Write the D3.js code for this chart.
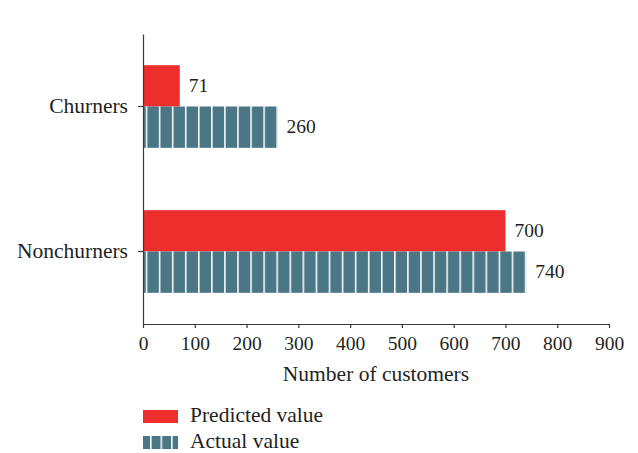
<!DOCTYPE html>
<html>
<head>
<meta charset="utf-8">
<script src="https://cdn.jsdelivr.net/npm/d3@7"></script>
<style>
  html, body { margin: 0; padding: 0; background: #fff; }
  svg text { font-family: "Liberation Serif", "Times New Roman", serif; fill: #231f20; }
</style>
</head>
<body>
<svg id="chart" width="638" height="453"></svg>
<script>
const categories = ["Churners", "Nonchurners"];
const predicted = [71, 700];
const actual = [260, 740];
const xTicks = [0, 100, 200, 300, 400, 500, 600, 700, 800, 900];
const seriesNames = ["Predicted value", "Actual value"];

const RED = "#ee2e2c";
const TEAL = "#4a7686";
const NUM_FONT = 19.5;
const WORD_FONT = 21.5;

const svg = d3.select("#chart");
const margin = { left: 143, right: 29, top: 34, bottom: 129 };
const W = 638, H = 453;
const x = d3.scaleLinear().domain([0, 900]).range([margin.left, W - margin.right]);
const y = d3.scaleBand().domain(categories).range([margin.top, H - margin.bottom]).paddingInner(0.43).paddingOuter(0.215);
const half = y.bandwidth() / 2;

// striped fill for the actual-value bars
const defs = svg.append("defs");
function stripes(id, x0, period) {
  const p = defs.append("pattern").attr("id", id).attr("patternUnits", "userSpaceOnUse")
    .attr("x", x0).attr("y", 0).attr("width", period).attr("height", H);
  p.append("rect").attr("width", period).attr("height", H).attr("fill", TEAL);
  p.append("rect").attr("x", 0).attr("width", 1.6).attr("height", H).attr("fill", "#f4f7f8");
}
stripes("stripe", x(0) + 2.7, 13.07);
stripes("stripeLegend", x(0) + 7, 10.5);

const g = svg.append("g");

// predicted bars (upper half of each band)
g.selectAll(".pred").data(categories).join("rect")
  .attr("x", x(0)).attr("y", d => y(d))
  .attr("width", (d, i) => x(predicted[i]) - x(0)).attr("height", half)
  .attr("fill", RED);

// actual bars (lower half of each band)
g.selectAll(".act").data(categories).join("rect")
  .attr("x", x(0)).attr("y", d => y(d) + half)
  .attr("width", (d, i) => x(actual[i]) - x(0)).attr("height", half)
  .attr("fill", "url(#stripe)");

// value labels
g.selectAll(".plab").data(categories).join("text")
  .attr("x", (d, i) => x(predicted[i]) + 9).attr("y", d => y(d) + half / 2 + 6)
  .attr("font-size", NUM_FONT).text((d, i) => predicted[i]);
g.selectAll(".alab").data(categories).join("text")
  .attr("x", (d, i) => x(actual[i]) + 9).attr("y", d => y(d) + half * 1.5 + 6)
  .attr("font-size", NUM_FONT).text((d, i) => actual[i]);

// x axis
const xAxis = svg.append("g").attr("transform", `translate(0,${H - margin.bottom})`)
  .call(d3.axisBottom(x).tickValues(xTicks).tickSize(4).tickSizeOuter(0).tickPadding(8));
xAxis.selectAll("text").attr("font-size", NUM_FONT).attr("font-family", "Liberation Serif").attr("fill", "#231f20");

// y axis, ticks placed at the boundary between the two bars of each category
const yAxis = svg.append("g").attr("transform", `translate(${x(0)},0)`)
  .call(d3.axisLeft(y).tickSize(5).tickSizeOuter(0).tickPadding(10));
yAxis.selectAll("text").attr("font-size", WORD_FONT).attr("font-family", "Liberation Serif").attr("fill", "#231f20");
yAxis.selectAll(".tick").attr("transform", d => `translate(0,${y(d) + half})`);

svg.selectAll(".domain, .tick line").attr("stroke", "#3a3a3a").attr("stroke-width", 1.2);

// axis title
svg.append("text").attr("x", (x(0) + x(900)) / 2).attr("y", 381)
  .attr("text-anchor", "middle").attr("font-size", WORD_FONT).text("Number of customers");

// legend
const leg = svg.append("g");
leg.append("rect").attr("x", x(0)).attr("y", 410).attr("width", 35).attr("height", 13).attr("fill", RED);
leg.append("rect").attr("x", x(0)).attr("y", 436).attr("width", 35).attr("height", 13).attr("fill", "url(#stripeLegend)");
leg.selectAll(".lt").data(seriesNames).join("text")
  .attr("x", x(0) + 47).attr("y", (d, i) => 422 + i * 26)
  .attr("font-size", WORD_FONT).text(d => d);
</script>
</body>
</html>
